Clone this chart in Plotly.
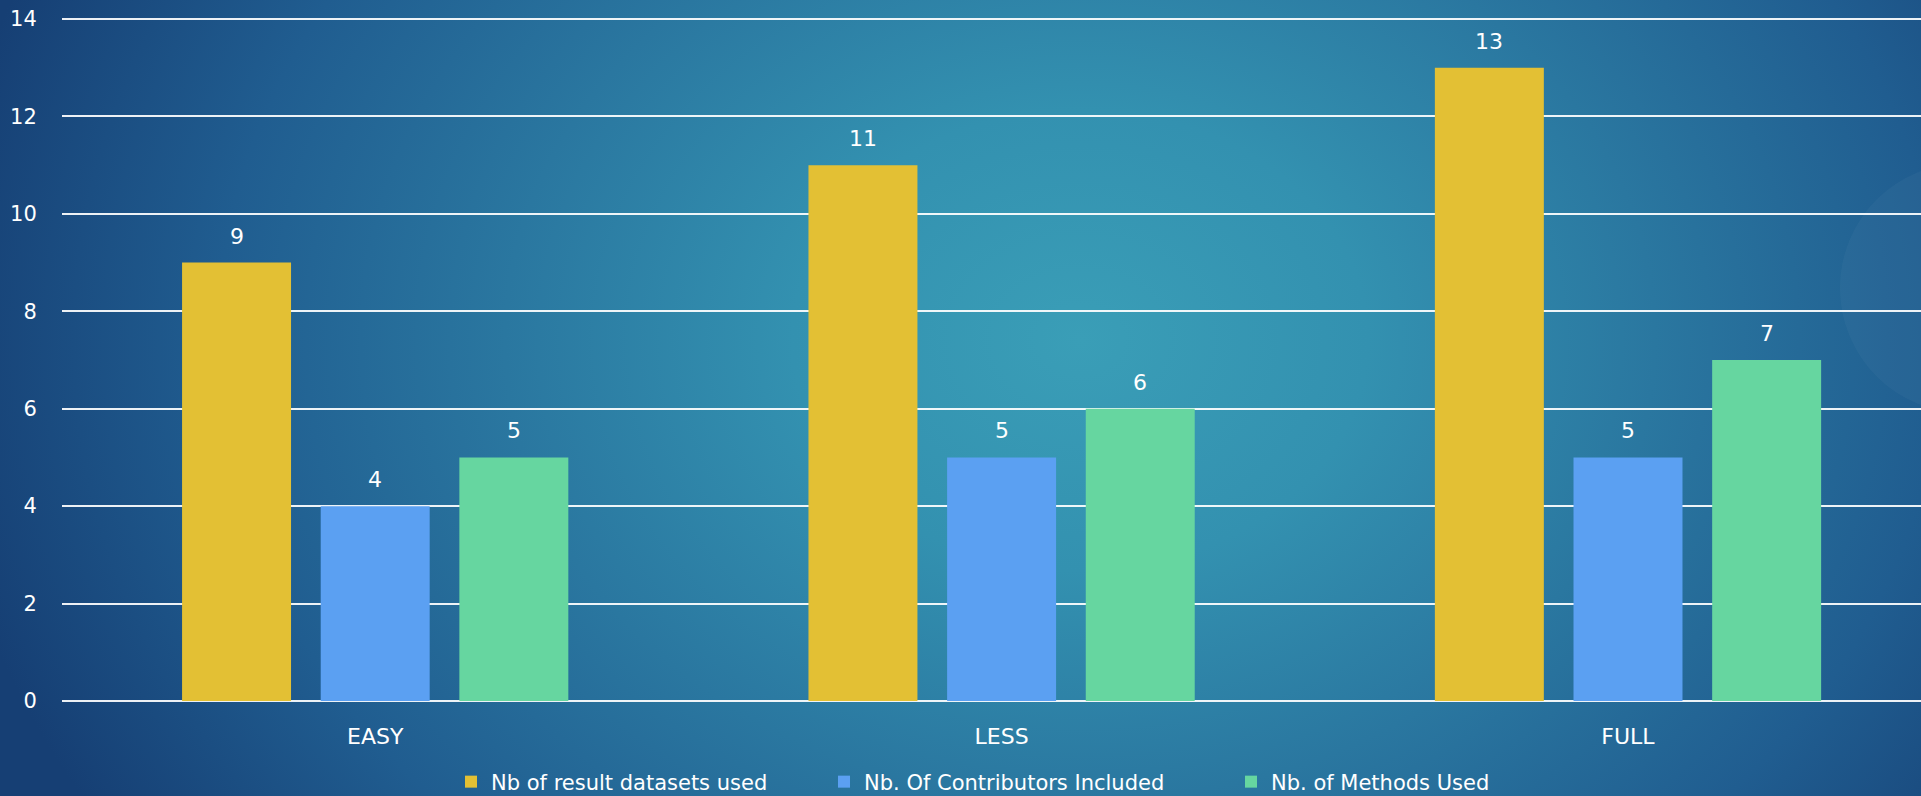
import base64
import plotly.graph_objects as go

# Chart data
categories = ["EASY", "LESS", "FULL"]
datasets_used = [9, 11, 13]
contributors_included = [4, 5, 5]
methods_used = [5, 6, 7]

series_names = [
    "Nb of result datasets used",
    "Nb. Of Contributors Included",
    "Nb. of Methods Used",
]
series_colors = ["#E3C034", "#5BA0F2", "#66D6A0"]
y_ticks = [0, 2, 4, 6, 8, 10, 12, 14]

W, H = 1921, 796
ML, MR, MT, MB = 62, 0, 17, 95
PW, PH = W - ML - MR, H - MT - MB
Y_TOP = 14 * PH / (H - MB - 19)  # keeps the 14 gridline just inside the frame

FONT = "DejaVu Sans"
WHITE = "#FFFFFF"

BARGAP = 0.336
BARGROUPGAP = 0.214

# Radial blue/teal backdrop as an inline SVG
bg_svg = f"""<svg xmlns='http://www.w3.org/2000/svg' width='{W}' height='{H}' viewBox='0 0 {W} {H}' preserveAspectRatio='none'>
<defs>
<radialGradient id='g' gradientUnits='userSpaceOnUse' cx='1080' cy='340' r='1150'
 gradientTransform='translate(1080 340) scale(1 0.8) translate(-1080 -340)'>
<stop offset='0' stop-color='#3A9EB7'/>
<stop offset='0.25' stop-color='#3391B0'/>
<stop offset='0.5' stop-color='#2A77A0'/>
<stop offset='0.75' stop-color='#205D90'/>
<stop offset='1' stop-color='#163F74'/>
</radialGradient>
</defs>
<rect x='0' y='0' width='{W}' height='{H}' fill='url(#g)'/>
</svg>"""
bg_uri = "data:image/svg+xml;base64," + base64.b64encode(bg_svg.encode()).decode()


def px_to_paper_x(px):
    return (px - ML) / PW


def px_to_paper_y(py):
    return (H - MB - py) / PH


fig = go.Figure()

series_values = [datasets_used, contributors_included, methods_used]
legend_ids = ["legend", "legend2", "legend3"]
for name, vals, color, lg in zip(series_names, series_values, series_colors, legend_ids):
    fig.add_trace(
        go.Bar(
            x=categories,
            y=vals,
            name=name,
            marker=dict(color=color, line=dict(width=0)),
            legend=lg,
            hoverinfo="skip",
        )
    )

# Value labels above each bar
slot = (1 - BARGAP) / len(series_values)
annotations = []
for si, vals in enumerate(series_values):
    offset = (si - (len(series_values) - 1) / 2) * slot
    for ci, v in enumerate(vals):
        annotations.append(
            dict(
                x=ci + offset,
                y=v,
                xref="x",
                yref="y",
                text=str(v),
                showarrow=False,
                yanchor="bottom",
                yshift=12,
                font=dict(family=FONT, size=22, color=WHITE),
            )
        )

legend_common = dict(
    orientation="h",
    xanchor="left",
    yanchor="middle",
    y=px_to_paper_y(782),
    bgcolor="rgba(0,0,0,0)",
    font=dict(family=FONT, size=21, color=WHITE),
)

fig.update_layout(
    width=W,
    height=H,
    margin=dict(l=ML, r=MR, t=MT, b=MB, pad=0, autoexpand=False),
    paper_bgcolor="#1F5C8E",
    plot_bgcolor="rgba(0,0,0,0)",
    barmode="group",
    bargap=BARGAP,
    bargroupgap=BARGROUPGAP,
    showlegend=True,
    legend=dict(x=px_to_paper_x(451), **legend_common),
    legend2=dict(x=px_to_paper_x(824), **legend_common),
    legend3=dict(x=px_to_paper_x(1231), **legend_common),
    annotations=annotations,
    images=[
        dict(
            source=bg_uri,
            xref="paper",
            yref="paper",
            x=px_to_paper_x(0),
            y=px_to_paper_y(0),
            sizex=W / PW,
            sizey=H / PH,
            xanchor="left",
            yanchor="top",
            sizing="stretch",
            layer="below",
        )
    ],
    shapes=[
        dict(
            type="circle",
            xref="paper",
            yref="paper",
            x0=px_to_paper_x(1840),
            x1=px_to_paper_x(2090),
            y0=px_to_paper_y(413),
            y1=px_to_paper_y(163),
            fillcolor="rgba(255,255,255,0.03)",
            line=dict(width=0),
            layer="below",
        )
    ],
)

fig.update_xaxes(
    type="category",
    range=[-0.5, -0.5 + PW / 626.4],
    showgrid=False,
    showline=False,
    zeroline=False,
    ticks="outside",
    ticklen=16,
    tickcolor="rgba(0,0,0,0)",
    tickfont=dict(family=FONT, size=22, color=WHITE),
    fixedrange=True,
)

fig.update_yaxes(
    range=[0, Y_TOP],
    tickvals=y_ticks,
    ticktext=[str(t) for t in y_ticks],
    showgrid=True,
    gridcolor="rgba(255,255,255,0.92)",
    gridwidth=2,
    zeroline=True,
    zerolinecolor="rgba(255,255,255,0.92)",
    zerolinewidth=2,
    showline=False,
    ticks="outside",
    ticklen=20,
    tickcolor="rgba(0,0,0,0)",
    tickfont=dict(family=FONT, size=21, color=WHITE),
    fixedrange=True,
)

fig.write_html("out.html", config={"displayModeBar": False})
